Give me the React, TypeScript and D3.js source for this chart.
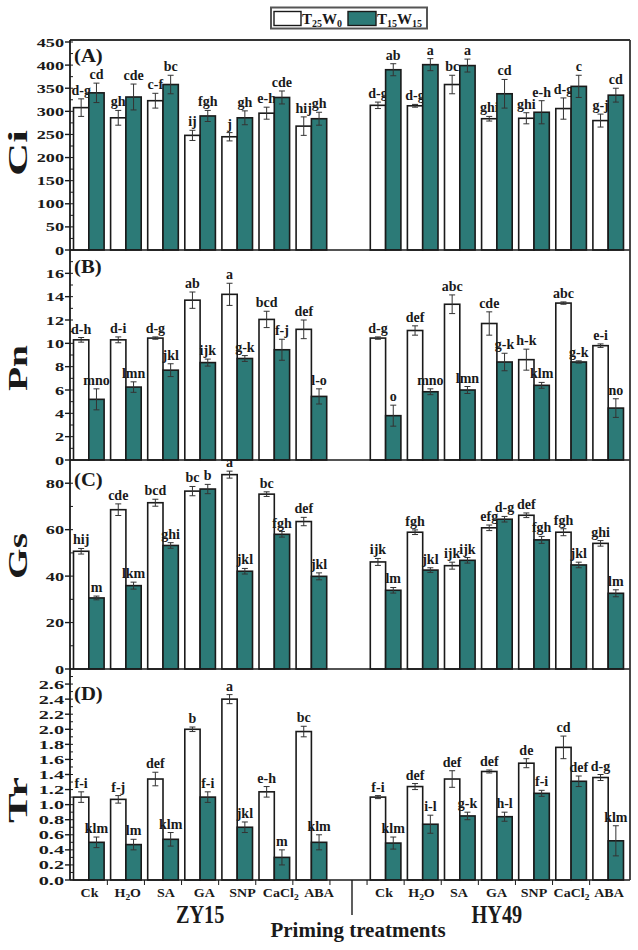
import React from "react";
import * as d3 from "d3";

// ---------- data ----------
const treatments = ["Ck", "H2O", "SA", "GA", "SNP", "CaCl2", "ABA"];
const cultivars = ["ZY15", "HY49"];
const seriesNames = ["T25W0", "T15W15"];

// Ci (ZY15 x7 then HY49 x7)
const ciT25W0 = [308, 286, 323, 248, 245, 296, 268, 313, 312, 358, 284, 285, 306, 280];
const ciT25W0Err = [19, 16, 16, 11, 9, 13, 20, 7, 3, 20, 5, 12, 23, 14];
const ciT15W15 = [340, 331, 358, 290, 286, 330, 284, 390, 401, 399, 338, 298, 354, 335];
const ciT15W15Err = [21, 28, 20, 12, 15, 14, 14, 13, 13, 14, 31, 25, 24, 15];
const ciT25W0Letters = ["d-g", "gh", "c-f", "ij", "j", "e-h", "hij", "d-g", "d-g", "bc", "ghi", "ghi", "d-g", "g-j"];
const ciT15W15Letters = ["cd", "cde", "bc", "fgh", "gh", "cde", "gh", "ab", "a", "a", "cd", "e-h", "c", "cd"];

// Pn
const pnT25W0 = [10.3, 10.3, 10.45, 13.7, 14.2, 12.05, 11.2, 10.45, 11.1, 13.35, 11.7, 8.6, 13.45, 9.8];
const pnT25W0Err = [0.2, 0.25, 0.1, 0.7, 0.95, 0.7, 0.8, 0.1, 0.4, 0.8, 1.0, 0.9, 0.1, 0.15];
const pnT15W15 = [5.2, 6.25, 7.7, 8.35, 8.7, 9.45, 5.45, 3.8, 5.85, 6.0, 8.4, 6.4, 8.4, 4.45];
const pnT15W15Err = [0.9, 0.45, 0.55, 0.3, 0.25, 0.9, 0.65, 0.9, 0.25, 0.3, 0.75, 0.25, 0.1, 0.8];
const pnT25W0Letters = ["d-h", "d-i", "d-g", "ab", "a", "bcd", "def", "d-g", "def", "abc", "cde", "h-k", "abc", "e-i"];
const pnT15W15Letters = ["mno", "lmn", "jkl", "ijk", "g-k", "f-j", "l-o", "o", "mno", "lmn", "g-k", "klm", "g-k", "no"];

// Gs
const gsT25W0 = [50.7, 68.6, 71.6, 76.6, 83.7, 75.3, 63.5, 46.1, 58.9, 44.5, 60.8, 66.2, 58.9, 54.1];
const gsT25W0Err = [1.2, 2.5, 1.5, 2, 1.5, 1, 1.8, 1.5, 1, 1.5, 1.2, 1, 1.5, 1.2];
const gsT15W15 = [30.6, 35.9, 53.2, 77.5, 42.1, 58, 39.9, 33.9, 42.6, 46.8, 64.5, 55.6, 44.8, 32.6];
const gsT15W15Err = [0.8, 1.5, 1.2, 2, 1.2, 1.2, 1.5, 1.2, 1, 1.2, 1.2, 1.5, 1.2, 1.5];
const gsT25W0Letters = ["hij", "cde", "bcd", "bc", "a", "bc", "def", "ijk", "fgh", "ijk", "efg", "def", "fgh", "ghi"];
const gsT15W15Letters = ["m", "lkm", "ghi", "b", "jkl", "fgh", "jkl", "lm", "jkl", "ijk", "d-g", "fgh", "jkl", "lm"];

// Tr
const trT25W0 = [1.1, 1.07, 1.34, 2.0, 2.4, 1.17, 1.97, 1.1, 1.24, 1.34, 1.44, 1.55, 1.76, 1.36];
const trT25W0Err = [0.07, 0.05, 0.09, 0.03, 0.06, 0.07, 0.07, 0.02, 0.04, 0.11, 0.02, 0.06, 0.15, 0.04];
const trT15W15 = [0.5, 0.47, 0.54, 1.1, 0.7, 0.3, 0.5, 0.49, 0.74, 0.85, 0.84, 1.15, 1.31, 0.52];
const trT15W15Err = [0.07, 0.07, 0.09, 0.07, 0.07, 0.1, 0.1, 0.08, 0.12, 0.05, 0.06, 0.04, 0.07, 0.2];
const trT25W0Letters = ["f-i", "f-j", "def", "b", "a", "e-h", "bc", "f-i", "def", "def", "def", "de", "cd", "d-g"];
const trT15W15Letters = ["klm", "lm", "klm", "f-i", "jkl", "m", "klm", "klm", "i-l", "g-k", "h-l", "f-i", "def", "klm"];

// axis ticks
const ciTicks = [0, 50, 100, 150, 200, 250, 300, 350, 400, 450];
const pnTicks = [0, 2, 4, 6, 8, 10, 12, 14, 16];
const gsTicks = [0, 20, 40, 60, 80];
const trTicks = [0, 0.2, 0.4, 0.6, 0.8, 1.0, 1.2, 1.4, 1.6, 1.8, 2.0, 2.2, 2.4, 2.6];

// ---------- styling ----------
const FONT = '"Liberation Serif", "Times New Roman", "DejaVu Serif", serif';
const TEAL = "#2c7a77";
const INK = "#1a1a1a";
const X0 = 70;
const X1 = 630;

const panels = [
  { key: "A", title: "Ci", top: 40, bottom: 250, maxR: 42, domain: 450, ticks: ciTicks, minor: 25, fmt: (d: number) => String(d), tsx: 1.35, a: ciT25W0, ae: ciT25W0Err, b: ciT15W15, be: ciT15W15Err, al: ciT25W0Letters, bl: ciT15W15Letters, titleY: 153, labelY: 62 },
  { key: "B", title: "Pn", top: 250, bottom: 460, maxR: 250, domain: 18, ticks: pnTicks, minor: 1, fmt: (d: number) => String(d), tsx: 1.35, a: pnT25W0, ae: pnT25W0Err, b: pnT15W15, be: pnT15W15Err, al: pnT25W0Letters, bl: pnT15W15Letters, titleY: 368, labelY: 273 },
  { key: "C", title: "Gs", top: 460, bottom: 669, maxR: 460, domain: 90, ticks: gsTicks, minor: 10, fmt: (d: number) => String(d), tsx: 1.35, a: gsT25W0, ae: gsT25W0Err, b: gsT15W15, be: gsT15W15Err, al: gsT25W0Letters, bl: gsT15W15Letters, titleY: 556, labelY: 486 },
  { key: "D", title: "Tr", top: 669, bottom: 880, maxR: 669, domain: 2.8, ticks: trTicks, minor: 0.1, fmt: (d: number) => d.toFixed(1), tsx: 1.5, a: trT25W0, ae: trT25W0Err, b: trT15W15, be: trT15W15Err, al: trT25W0Letters, bl: trT15W15Letters, titleY: 800, labelY: 700 },
];

const slots: string[] = [
  ...treatments.map((t) => `${cultivars[0]}|${t}`),
  "gap",
  ...treatments.map((t) => `${cultivars[1]}|${t}`),
];
const dataSlots = slots.filter((s) => s !== "gap");

const xBand = d3.scaleBand<string>().domain(slots).range([73.5, 623.5]).paddingInner(0.175).paddingOuter(0);
const xInner = d3.scaleBand<string>().domain(seriesNames).range([0, xBand.bandwidth()]).padding(0);
// tick-label positions (labels of the first cultivar are spread a little wider than the bars)
const labelX: Record<string, d3.ScalePoint<string>> = {
  [cultivars[0]]: d3.scalePoint<string>().domain(treatments).range([89.5, 319]),
  [cultivars[1]]: d3.scalePoint<string>().domain(treatments).range([384, 609]),
};

function SText(props: { x: number; y: number; size: number; sx?: number; anchor?: string; children: any; weight?: string }) {
  const { x, y, size, sx = 1, anchor = "middle", children, weight = "bold" } = props;
  return (
    <text transform={`translate(${x},${y}) scale(${sx},1)`} textAnchor={anchor} fontSize={size} fontWeight={weight} fontFamily={FONT} fill={INK}>
      {children}
    </text>
  );
}

function tickLabel(t: string) {
  if (t === "H2O")
    return (
      <>
        H<tspan dy={3} fontSize={8.5}>2</tspan>
        <tspan dy={-3}>O</tspan>
      </>
    );
  if (t === "CaCl2")
    return (
      <>
        CaCl<tspan dy={3} fontSize={8.5}>2</tspan>
      </>
    );
  return t;
}

function Panel({ p }: { p: (typeof panels)[number] }) {
  const y = d3.scaleLinear().domain([0, p.domain]).range([p.bottom, p.maxR]);
  const minorTicks = d3.range(0, p.domain + 1e-9, p.minor).filter((v) => y(v) >= p.top - 0.5);
  const series = [
    { name: seriesNames[0], vals: p.a, errs: p.ae, letters: p.al, fill: "#ffffff" },
    { name: seriesNames[1], vals: p.b, errs: p.be, letters: p.bl, fill: TEAL },
  ];
  return (
    <g>
      {series.map((s) =>
        dataSlots.map((slot, i) => {
          const bx = (xBand(slot) as number) + (xInner(s.name) as number);
          const w = xInner.bandwidth();
          const v = s.vals[i];
          const e = s.errs[i];
          const cx = bx + w / 2;
          return (
            <g key={`${s.name}-${slot}`}>
              <rect x={bx} y={y(v)} width={w} height={y(0) - y(v)} fill={s.fill} stroke={INK} strokeWidth={1.6} />
              <line x1={cx} x2={cx} y1={y(v + e)} y2={y(v - e)} stroke="#333" strokeWidth={1} />
              <line x1={cx - 3} x2={cx + 3} y1={y(v + e)} y2={y(v + e)} stroke="#333" strokeWidth={1} />
              <line x1={cx - 3} x2={cx + 3} y1={y(v - e)} y2={y(v - e)} stroke="#333" strokeWidth={1} />
              <SText x={cx} y={y(v + e) - 4} size={14} sx={1.0}>
                {s.letters[i]}
              </SText>
            </g>
          );
        })
      )}
      <line x1={X0} x2={X1} y1={p.bottom} y2={p.bottom} stroke={INK} strokeWidth={1.6} />
      {minorTicks.map((v, i) => (
        <line key={`mn${i}`} x1={X0} x2={X0 + 3} y1={y(v)} y2={y(v)} stroke={INK} strokeWidth={1} />
      ))}
      {p.ticks.map((v) => (
        <g key={`t${v}`}>
          <line x1={X0 - 5} x2={X0} y1={y(v)} y2={y(v)} stroke={INK} strokeWidth={1.4} />
          <SText x={X0 - 6} y={y(v) + 4.5} size={13.5} sx={p.tsx} anchor="end">
            {p.fmt(v)}
          </SText>
        </g>
      ))}
      <SText x={74} y={p.labelY} size={18} sx={1.15} anchor="start">
        ({p.key})
      </SText>
      <text
        transform={`translate(27,${p.titleY}) rotate(-90)`}
        textAnchor="middle"
        fontSize={27}
        fontWeight="bold"
        fontFamily={FONT}
        fill={INK}
        textLength={46}
        lengthAdjust="spacingAndGlyphs"
      >
        {p.title}
      </text>
    </g>
  );
}

export default function App() {
  const boundaryTicks = slots.map((s) => (xBand(s) as number) - (xBand.step() - xBand.bandwidth()) / 2);
  return (
    <svg width={638} height={950} style={{ position: "absolute", left: 0, top: 0, background: "#fff" }}>
      <rect x={0} y={0} width={638} height={950} fill="#fff" />
      {panels.map((p) => (
        <Panel key={p.key} p={p} />
      ))}
      <line x1={X0} x2={X1} y1={40} y2={40} stroke="#333" strokeWidth={1.8} />
      <line x1={X1} x2={X1} y1={40} y2={880} stroke="#333" strokeWidth={1.8} />
      <line x1={X0} x2={X0} y1={40} y2={880} stroke={INK} strokeWidth={1.8} />
      {boundaryTicks.slice(1).map((bx, i) => (
        <line key={`xb${i}`} x1={bx} x2={bx} y1={880} y2={885} stroke={INK} strokeWidth={1} />
      ))}
      {dataSlots.map((slot) => {
        const [c, t] = slot.split("|");
        return (
          <SText key={`xl${slot}`} x={labelX[c](t) as number} y={897} size={12.5} sx={1.12}>
            {tickLabel(t)}
          </SText>
        );
      })}
      <line x1={352} x2={352} y1={880} y2={915} stroke={INK} strokeWidth={1.4} />
      {cultivars.map((c) => {
        const first = xBand(`${c}|${treatments[0]}`) as number;
        const last = (xBand(`${c}|${treatments[treatments.length - 1]}`) as number) + xBand.bandwidth();
        return (
          <SText key={c} x={(first + last) / 2} y={923} size={26} sx={0.78}>
            {c}
          </SText>
        );
      })}
      <SText x={358} y={937} size={21} sx={1}>
        Priming treatments
      </SText>
      <g>
        <rect x={271} y={7.5} width={156} height={21} fill="#fff" stroke="#555" strokeWidth={2} />
        <rect x={274} y={11.5} width={27} height={14} fill="#fff" stroke={INK} strokeWidth={1.4} />
        <text x={302} y={24} fontSize={15} fontWeight="bold" fontFamily={FONT} fill={INK}>
          T<tspan dy={3} fontSize={10}>25</tspan>
          <tspan dy={-3}>W</tspan>
          <tspan dy={3} fontSize={10}>0</tspan>
        </text>
        <rect x={348} y={11.5} width={28} height={14} fill={TEAL} stroke={INK} strokeWidth={1.4} />
        <text x={377} y={24} fontSize={15} fontWeight="bold" fontFamily={FONT} fill={INK}>
          T<tspan dy={3} fontSize={10}>15</tspan>
          <tspan dy={-3}>W</tspan>
          <tspan dy={3} fontSize={10}>15</tspan>
        </text>
      </g>
    </svg>
  );
}
